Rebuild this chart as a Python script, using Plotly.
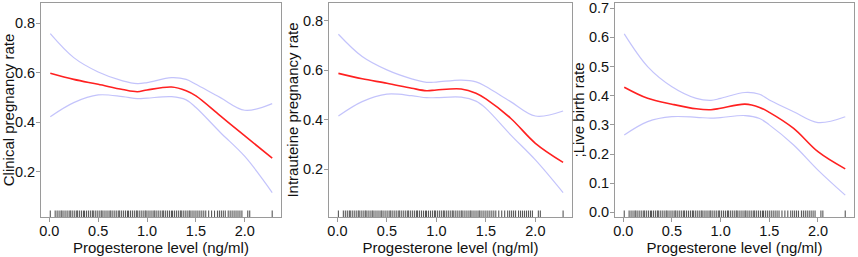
import plotly.graph_objects as go

# ---- data ----
x_pts = [0.01, 0.25, 0.5, 0.75, 0.9, 1.0, 1.25, 1.4, 1.5, 1.75, 2.0, 2.28]

clin_fit = [0.598, 0.573, 0.553, 0.532, 0.523, 0.530, 0.542, 0.527, 0.506, 0.425, 0.344, 0.254]
clin_up  = [0.758, 0.661, 0.603, 0.567, 0.556, 0.560, 0.580, 0.573, 0.553, 0.499, 0.448, 0.475]
clin_lo  = [0.422, 0.479, 0.510, 0.503, 0.495, 0.497, 0.503, 0.490, 0.459, 0.358, 0.261, 0.115]

intra_fit = [0.587, 0.565, 0.547, 0.527, 0.517, 0.520, 0.524, 0.507, 0.484, 0.406, 0.305, 0.228]
intra_up  = [0.745, 0.655, 0.601, 0.565, 0.551, 0.552, 0.560, 0.553, 0.534, 0.473, 0.415, 0.435]
intra_lo  = [0.415, 0.473, 0.503, 0.497, 0.489, 0.489, 0.491, 0.475, 0.446, 0.339, 0.238, 0.106]

live_fit = [0.429, 0.391, 0.371, 0.355, 0.352, 0.357, 0.371, 0.360, 0.343, 0.288, 0.208, 0.149]
live_up  = [0.612, 0.500, 0.431, 0.391, 0.384, 0.391, 0.411, 0.405, 0.385, 0.345, 0.308, 0.328]
live_lo  = [0.265, 0.311, 0.328, 0.326, 0.323, 0.325, 0.332, 0.322, 0.300, 0.231, 0.145, 0.059]

rug = [0.01, 0.06, 0.08, 0.10, 0.12, 0.13, 0.15, 0.17, 0.19, 0.21, 0.22, 0.24, 0.26, 0.28,
       0.29, 0.31, 0.33, 0.35, 0.36, 0.38, 0.40, 0.42, 0.44, 0.45, 0.47, 0.49, 0.51, 0.53,
       0.54, 0.56, 0.58, 0.60, 0.62, 0.63, 0.65, 0.67, 0.69, 0.71, 0.72, 0.74, 0.76, 0.78,
       0.80, 0.81, 0.83, 0.85, 0.87, 0.89, 0.90, 0.92, 0.94, 0.96, 0.98, 0.99, 1.01, 1.03,
       1.05, 1.07, 1.08, 1.10, 1.12, 1.14, 1.16, 1.17, 1.19, 1.21, 1.23, 1.25, 1.26, 1.28,
       1.30, 1.32, 1.34, 1.35, 1.37, 1.39, 1.41, 1.43, 1.44, 1.46, 1.48, 1.50, 1.52, 1.54,
       1.56, 1.58, 1.60, 1.63, 1.66, 1.69, 1.72, 1.74, 1.76, 1.78, 1.80, 1.83, 1.85, 1.87,
       1.89, 1.91, 1.93, 1.95, 1.97, 2.03, 2.05, 2.28]

y_titles = ["Clinical pregnancy rate", "Intrauteine pregnancy rate", ";Live birth rate"]
x_title = "Progesterone level (ng/ml)"
x_ticks = [0.0, 0.5, 1.0, 1.5, 2.0]
x_ticklabels = ["0.0", "0.5", "1.0", "1.5", "2.0"]
y_ticks = [[0.2, 0.4, 0.6, 0.8], [0.2, 0.4, 0.6, 0.8], [0.0, 0.1, 0.2, 0.3, 0.4, 0.5, 0.6, 0.7]]
y_ranges = [[0.016, 0.882], [0.0075, 0.871], [-0.016, 0.718]]

panels = [(clin_fit, clin_up, clin_lo), (intra_fit, intra_up, intra_lo), (live_fit, live_up, live_lo)]

# ---- layout geometry ----
W, H = 858, 257
x_domains = [[41 / W, 281 / W], [329 / W, 572 / W], [615 / W, 854 / W]]
y_domain = [40 / H, 254 / H]

FONT = "Liberation Sans, Arial, sans-serif"
RED = "#ff2020"
CI = "rgba(180,180,250,0.8)"
BOX = "#9a9a9a"

fig = go.Figure()
shapes = []
for i, (fit, up, lo) in enumerate(panels):
    xa = "x" if i == 0 else f"x{i+1}"
    ya = "y" if i == 0 else f"y{i+1}"
    for ys, col, w in [(up, CI, 1.2), (lo, CI, 1.2), (fit, RED, 1.6)]:
        fig.add_trace(go.Scatter(x=x_pts, y=ys, mode="lines", xaxis=xa, yaxis=ya,
                                 line=dict(color=col, width=w, shape="spline", smoothing=1.0),
                                 showlegend=False, hoverinfo="skip"))
    for v in rug:
        shapes.append(dict(type="line", xref=xa, yref=f"{ya} domain", x0=v, x1=v, y0=0.0, y1=0.03,
                           line=dict(color="rgba(70,70,70,0.9)", width=1.1)))

    ax_common = dict(showline=True, linecolor=BOX, linewidth=1, mirror=True, ticks="outside",
                     ticklen=4, tickcolor=BOX, showgrid=False, zeroline=False, automargin=False,
                     tickfont=dict(family=FONT, size=14.5, color="#111"))
    xkey = "xaxis" if i == 0 else f"xaxis{i+1}"
    ykey = "yaxis" if i == 0 else f"yaxis{i+1}"
    fig.update_layout(**{
        xkey: dict(domain=x_domains[i], anchor=ya, range=[-0.085, 2.37],
                   tickvals=x_ticks, ticktext=x_ticklabels, ticklabelstandoff=-3,
                   title=dict(text=x_title, font=dict(family=FONT, size=15, color="#111"), standoff=0),
                   **ax_common),
        ykey: dict(domain=y_domain, anchor=xa, range=y_ranges[i],
                   tickvals=y_ticks[i], ticktext=[f"{t:.1f}" for t in y_ticks[i]], ticklabelstandoff=-2,
                   title=dict(text=y_titles[i], font=dict(family=FONT, size=15, color="#111"), standoff=0),
                   **ax_common),
    })

fig.update_layout(width=W, height=H, margin=dict(l=0, r=0, t=0, b=0),
                  paper_bgcolor="white", plot_bgcolor="white", shapes=shapes)
fig.write_html("out.html", config={"displayModeBar": False},
               post_script="document.body.style.margin='0';")
